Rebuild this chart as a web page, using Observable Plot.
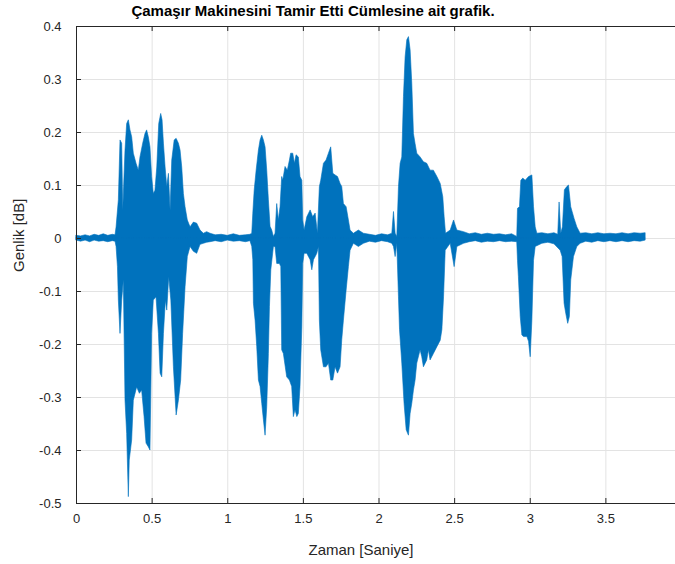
<!DOCTYPE html>
<html><head><meta charset="utf-8">
<script src="https://cdn.jsdelivr.net/npm/d3@7"></script>
<script src="https://cdn.jsdelivr.net/npm/@observablehq/plot@0.6"></script>
<style>body{margin:0;background:#fff}</style>
</head><body><div id="chart"></div>
<script>
const title = "Çamaşır Makinesini Tamir Etti Cümlesine ait grafik.";
const xLabel = "Zaman [Saniye]";
const yLabel = "Genlik [dB]";
const xTicks = [0, 0.5, 1, 1.5, 2, 2.5, 3, 3.5, 4];
const xTickLabels = [0, 0.5, 1, 1.5, 2, 2.5, 3, 3.5];
const yTicks = [-0.5, -0.4, -0.3, -0.2, -0.1, 0, 0.1, 0.2, 0.3, 0.4];

// upper envelope of the waveform (time in s, amplitude)
const upperT = [0.000,0.030,0.060,0.090,0.120,0.150,0.180,0.210,0.240,0.258,
0.265,0.280,0.291,0.302,0.309,0.324,0.335,0.346,0.357,0.368,0.379,0.397,0.412,0.423,0.441,0.456,0.467,0.478,0.489,0.500,0.511,0.522,0.534,0.547,0.560,0.569,0.578,0.589,0.600,0.611,0.622,0.633,0.649,0.662,0.677,0.688,0.699,0.710,0.721,0.736,0.754,0.776,0.798,0.820,0.842,0.864,0.886,
0.92,0.96,1.00,1.04,1.08,1.12,1.150,
1.162,1.169,1.178,1.191,1.206,1.217,1.228,1.239,1.250,1.261,1.272,1.283,1.294,1.305,1.316,1.327,1.338,1.349,
1.360,1.367,1.382,1.397,1.411,1.419,1.433,1.444,1.455,1.470,1.481,1.493,1.499,1.508,
1.526,1.548,1.565,1.581,1.596,
1.609,1.618,1.636,1.653,1.669,1.684,1.698,1.713,1.729,1.746,1.757,1.768,1.786,1.801,1.812,1.834,1.867,1.900,
1.94,1.98,2.02,2.06,
2.088,2.099,2.110,2.121,2.132,2.143,2.154,2.165,2.176,2.187,2.198,2.209,2.220,2.231,2.242,2.253,2.275,2.297,2.319,2.341,2.363,2.386,2.408,2.425,2.434,2.443,2.474,2.496,2.518,2.562,
2.60,2.64,2.68,2.72,2.76,2.80,2.84,2.88,
2.914,2.919,2.932,2.941,2.954,2.970,2.992,3.014,3.025,3.036,3.047,
3.08,3.12,3.16,3.185,
3.194,3.205,3.216,3.229,3.245,3.256,3.271,3.293,3.311,3.333,
3.37,3.41,3.45,3.49,3.53,3.57,3.61,3.65,3.69,3.73,3.763];
const upperV = [0.005,0.004,0.006,0.004,0.007,0.005,0.008,0.005,0.007,0.006,
0.021,0.072,0.185,0.179,0.053,0.166,0.216,0.223,0.204,0.191,0.160,0.141,0.128,0.153,0.179,0.197,0.204,0.191,0.172,0.116,0.084,0.090,0.134,0.216,0.235,0.223,0.179,0.134,0.097,0.122,0.053,0.147,0.185,0.188,0.179,0.166,0.134,0.084,0.059,0.034,0.021,0.030,0.028,0.015,0.009,0.012,0.009,
0.006,0.007,0.005,0.008,0.005,0.006,0.007,
0.009,0.047,0.090,0.128,0.166,0.185,0.194,0.185,0.172,0.128,0.072,0.022,0.015,0.003,0.009,0.065,0.034,0.059,
0.116,0.109,0.135,0.128,0.147,0.160,0.160,0.141,0.157,0.153,0.116,0.109,0.034,0.015,
0.040,0.053,0.040,0.047,0.009,
0.097,0.109,0.141,0.147,0.160,0.172,0.122,0.119,0.116,0.103,0.097,0.065,0.059,0.034,0.015,0.009,0.015,0.009,
0.007,0.005,0.008,0.006,
0.009,0.050,0.009,0.003,0.097,0.141,0.153,0.267,0.342,0.374,0.380,0.355,0.292,0.197,0.178,0.160,0.153,0.144,0.141,0.128,0.128,0.116,0.103,0.078,0.040,0.009,0.015,0.034,0.015,0.012,
0.008,0.010,0.007,0.009,0.007,0.008,0.006,0.008,
0.003,0.056,0.059,0.109,0.113,0.109,0.116,0.119,0.059,0.021,0.009,
0.010,0.008,0.010,0.007,
0.068,0.009,0.021,0.091,0.097,0.100,0.059,0.037,0.021,0.009,
0.010,0.008,0.010,0.008,0.009,0.008,0.010,0.008,0.010,0.009,0.010];

// lower envelope of the waveform (time in s, amplitude)
const lowerT = [0.000,0.030,0.060,0.090,0.120,0.150,0.180,0.210,0.240,0.258,
0.265,0.274,0.280,0.291,0.302,0.313,0.324,0.335,0.346,0.352,0.368,0.379,0.401,0.419,0.434,0.450,0.463,0.478,0.489,0.500,0.511,0.529,0.545,0.556,0.567,0.578,0.591,0.600,0.613,0.627,0.644,0.662,0.677,0.692,0.705,0.721,0.736,0.754,0.776,0.798,0.820,0.842,0.864,0.886,
0.92,0.96,1.00,1.04,1.08,1.12,1.150,
1.162,1.169,1.173,1.184,1.195,1.206,1.217,1.228,1.239,1.250,1.261,1.272,1.279,1.288,1.305,1.316,1.327,1.345,1.354,
1.360,1.371,1.393,1.411,1.426,1.437,1.448,1.460,1.470,1.481,1.493,1.499,1.508,
1.526,1.548,1.559,1.570,1.592,1.603,
1.609,1.618,1.636,1.653,1.669,1.684,1.698,1.713,1.729,1.746,1.757,1.768,1.786,1.801,1.812,1.834,1.867,1.900,
1.94,1.98,2.02,2.06,
2.088,2.099,2.110,2.121,2.132,2.139,2.154,2.169,2.183,2.198,2.209,2.220,2.231,2.242,2.253,2.275,2.286,2.297,2.319,2.330,2.341,2.363,2.386,2.408,2.419,2.430,2.441,2.474,2.500,2.518,2.562,
2.60,2.64,2.68,2.72,2.76,2.80,2.84,2.88,
2.914,2.919,2.925,2.937,2.948,2.959,2.981,2.992,3.003,3.014,3.025,3.036,
3.08,3.12,3.16,
3.201,3.214,3.227,3.238,3.251,3.262,3.271,3.289,3.311,3.333,
3.37,3.41,3.45,3.49,3.53,3.57,3.61,3.65,3.69,3.73,3.763];
const lowerV = [-0.004,-0.006,-0.004,-0.007,-0.004,-0.006,-0.005,-0.007,-0.005,-0.006,
-0.016,-0.054,-0.117,-0.180,-0.117,-0.079,-0.306,-0.369,-0.488,-0.419,-0.381,-0.306,-0.281,-0.293,-0.287,-0.337,-0.387,-0.394,-0.400,-0.180,-0.117,-0.111,-0.180,-0.255,-0.262,-0.180,-0.117,-0.136,-0.073,-0.117,-0.243,-0.334,-0.306,-0.268,-0.180,-0.092,-0.035,-0.016,-0.025,-0.029,-0.012,-0.010,-0.008,-0.007,
-0.005,-0.007,-0.004,-0.006,-0.005,-0.007,-0.005,
-0.016,-0.041,-0.123,-0.155,-0.205,-0.268,-0.280,-0.312,-0.343,-0.372,-0.318,-0.218,-0.129,-0.060,-0.016,-0.016,-0.048,-0.048,-0.054,
-0.211,-0.218,-0.262,-0.268,-0.280,-0.337,-0.324,-0.337,-0.331,-0.280,-0.167,-0.048,-0.029,
-0.029,-0.041,-0.060,-0.041,-0.029,-0.016,
-0.155,-0.211,-0.243,-0.243,-0.236,-0.268,-0.268,-0.243,-0.255,-0.243,-0.192,-0.155,-0.098,-0.054,-0.023,-0.010,-0.016,-0.010,
-0.006,-0.008,-0.005,-0.007,
-0.010,-0.016,-0.035,-0.010,-0.111,-0.173,-0.236,-0.312,-0.362,-0.372,-0.331,-0.312,-0.287,-0.268,-0.236,-0.211,-0.224,-0.243,-0.230,-0.211,-0.230,-0.218,-0.205,-0.193,-0.173,-0.111,-0.023,-0.010,-0.054,-0.016,-0.010,
-0.007,-0.005,-0.008,-0.006,-0.007,-0.005,-0.007,-0.006,
-0.007,-0.042,-0.073,-0.148,-0.183,-0.186,-0.186,-0.195,-0.224,-0.155,-0.042,-0.016,
-0.010,-0.008,-0.011,
-0.023,-0.035,-0.123,-0.142,-0.161,-0.148,-0.079,-0.035,-0.016,-0.010,
-0.006,-0.008,-0.005,-0.007,-0.005,-0.007,-0.005,-0.007,-0.005,-0.006,-0.004];

const upper = upperT.map((t, i) => ({t, v: upperV[i]}));
const lower = lowerT.map((t, i) => ({t, v: lowerV[i]}));

const W = 675, H = 564, mL = 76, mT = 26, mB = 61;
const blue = "#0072BD", ink = "#262626", grid = "#e3e3e3";

const chart = Plot.plot({
  width: W, height: H,
  marginLeft: mL, marginTop: mT, marginBottom: mB, marginRight: 0,
  style: {fontFamily: "'Liberation Sans', Arial, Helvetica, sans-serif", fontSize: "13px", color: ink, background: "#fff", overflow: "hidden"},
  x: {domain: [0, 4], range: [mL, 681], label: null},
  y: {domain: [-0.5, 0.4], label: null},
  marks: [
    Plot.ruleX(xTicks, {x: d => d, stroke: grid, strokeWidth: 1}),
    Plot.ruleY(yTicks, {y: d => d, stroke: grid, strokeWidth: 1}),
    Plot.areaY(upper, {x: "t", y: "v", fill: blue, stroke: blue, strokeWidth: 0.6}),
    Plot.areaY(lower, {x: "t", y: "v", fill: blue, stroke: blue, strokeWidth: 0.6}),
    Plot.ruleX([0], {x: d => d, stroke: ink}),
    Plot.ruleX([4], {x: d => d, stroke: ink}),
    Plot.ruleY([-0.5], {y: d => d, stroke: ink}),
    Plot.ruleY([0.4], {y: d => d, stroke: ink}),
    Plot.ruleX(xTicks, {x: d => d, stroke: ink, insetTop: 472}),
    Plot.ruleX(xTicks, {x: d => d, stroke: ink, insetBottom: 472}),
    Plot.ruleY(yTicks, {y: d => d, stroke: ink, insetRight: 594}),
    Plot.axisX(xTickLabels, {tickSize: 0, tickPadding: 10, tickFormat: d => String(d), fontSize: 13, fill: ink, label: null}),
    Plot.axisY(yTicks, {tickSize: 0, tickPadding: 15, tickFormat: d => String(d), fontSize: 13, fill: ink, label: null}),
    Plot.text([xLabel], {frameAnchor: "bottom", lineAnchor: "middle", dy: 47, dx: -15, fontSize: 15, fill: ink}),
    Plot.text([yLabel], {frameAnchor: "left", lineAnchor: "middle", rotate: -90, dx: -57, dy: 7, fontSize: 15, fill: ink}),
    Plot.text([title], {frameAnchor: "top", lineAnchor: "middle", dy: -15, dx: -63, fontSize: 15, fontWeight: "bold", fill: "#000"})
  ]
});
document.getElementById("chart").appendChild(chart);
</script>
</body></html>
